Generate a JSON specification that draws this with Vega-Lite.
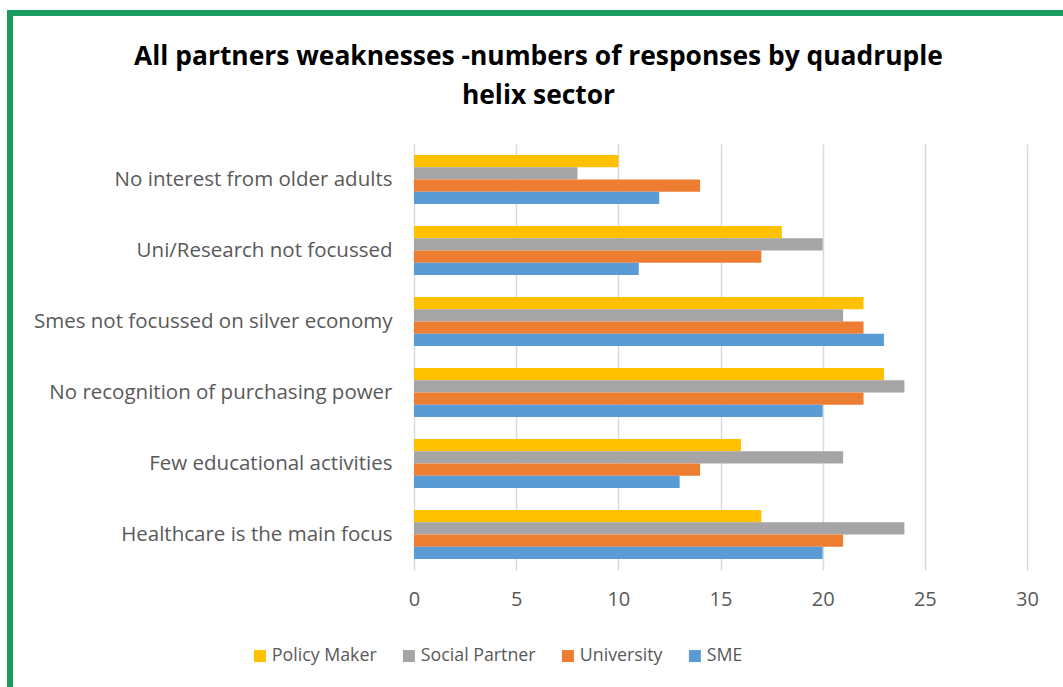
{
  "$schema": "https://vega.github.io/schema/vega-lite/v6.json",
  "width": 613,
  "height": 426,
  "autosize": {"type": "none"},
  "padding": {"left": 414, "top": 144, "right": 36, "bottom": 117},
  "background": "white",
  "config": {"view": {"stroke": null}, "font": "Open Sans"},
  "title": {
    "text": ["All partners weaknesses -numbers of responses by quadruple", "helix sector"],
    "fontSize": 26.4,
    "fontWeight": "bold",
    "color": "#000000",
    "anchor": "middle",
    "frame": "group",
    "dx": -182,
    "offset": -99,
    "lineHeight": 39
  },
  "layer": [
    {
      "data": {"values": [{"frame": "border"}]},
      "mark": {"type": "rect", "fill": null, "stroke": "#1a9b5f", "strokeWidth": 6, "clip": false},
      "encoding": {
        "x": {"value": -404},
        "x2": {"value": 700},
        "y": {"value": -131},
        "y2": {"value": 600}
      }
    },
    {
      "data": {
        "values": [
          {"category": "No interest from older adults", "series": "Policy Maker", "value": 10},
          {"category": "No interest from older adults", "series": "Social Partner", "value": 8},
          {"category": "No interest from older adults", "series": "University", "value": 14},
          {"category": "No interest from older adults", "series": "SME", "value": 12},
          {"category": "Uni/Research not focussed", "series": "Policy Maker", "value": 18},
          {"category": "Uni/Research not focussed", "series": "Social Partner", "value": 20},
          {"category": "Uni/Research not focussed", "series": "University", "value": 17},
          {"category": "Uni/Research not focussed", "series": "SME", "value": 11},
          {"category": "Smes not focussed on silver economy", "series": "Policy Maker", "value": 22},
          {"category": "Smes not focussed on silver economy", "series": "Social Partner", "value": 21},
          {"category": "Smes not focussed on silver economy", "series": "University", "value": 22},
          {"category": "Smes not focussed on silver economy", "series": "SME", "value": 23},
          {"category": "No recognition of purchasing power", "series": "Policy Maker", "value": 23},
          {"category": "No recognition of purchasing power", "series": "Social Partner", "value": 24},
          {"category": "No recognition of purchasing power", "series": "University", "value": 22},
          {"category": "No recognition of purchasing power", "series": "SME", "value": 20},
          {"category": "Few educational activities", "series": "Policy Maker", "value": 16},
          {"category": "Few educational activities", "series": "Social Partner", "value": 21},
          {"category": "Few educational activities", "series": "University", "value": 14},
          {"category": "Few educational activities", "series": "SME", "value": 13},
          {"category": "Healthcare is the main focus", "series": "Policy Maker", "value": 17},
          {"category": "Healthcare is the main focus", "series": "Social Partner", "value": 24},
          {"category": "Healthcare is the main focus", "series": "University", "value": 21},
          {"category": "Healthcare is the main focus", "series": "SME", "value": 20}
        ]
      },
      "mark": {"type": "bar"},
      "encoding": {
        "y": {
          "field": "category",
          "type": "nominal",
          "sort": ["No interest from older adults", "Uni/Research not focussed", "Smes not focussed on silver economy", "No recognition of purchasing power", "Few educational activities", "Healthcare is the main focus"],
          "scale": {"paddingInner": 0.31, "paddingOuter": 0.155},
          "axis": {"title": null, "domain": false, "ticks": false, "labelFontSize": 20.5, "labelColor": "#595959", "labelPadding": 22, "labelLimit": 400}
        },
        "yOffset": {
          "field": "series",
          "sort": ["Policy Maker", "Social Partner", "University", "SME"],
          "scale": {"paddingInner": 0, "paddingOuter": 0}
        },
        "x": {
          "field": "value",
          "type": "quantitative",
          "scale": {"domain": [0, 30], "nice": false},
          "axis": {"title": null, "values": [0, 5, 10, 15, 20, 25, 30], "grid": true, "gridColor": "#d9d9d9", "gridWidth": 1.5, "domain": false, "ticks": false, "labelFlush": false, "labelFontSize": 20, "labelColor": "#595959", "labelPadding": 19}
        },
        "color": {
          "field": "series",
          "type": "nominal",
          "scale": {"domain": ["Policy Maker", "Social Partner", "University", "SME"], "range": ["#FFC000", "#A5A5A5", "#ED7D31", "#5B9BD5"]},
          "legend": {"title": null, "orient": "none", "legendX": -163, "legendY": 503, "direction": "horizontal", "symbolType": "square", "symbolSize": 144, "symbolStrokeWidth": 0, "labelFontSize": 17.8, "labelColor": "#595959", "labelOffset": 3, "columnPadding": 23}
        }
      }
    }
  ]
}
